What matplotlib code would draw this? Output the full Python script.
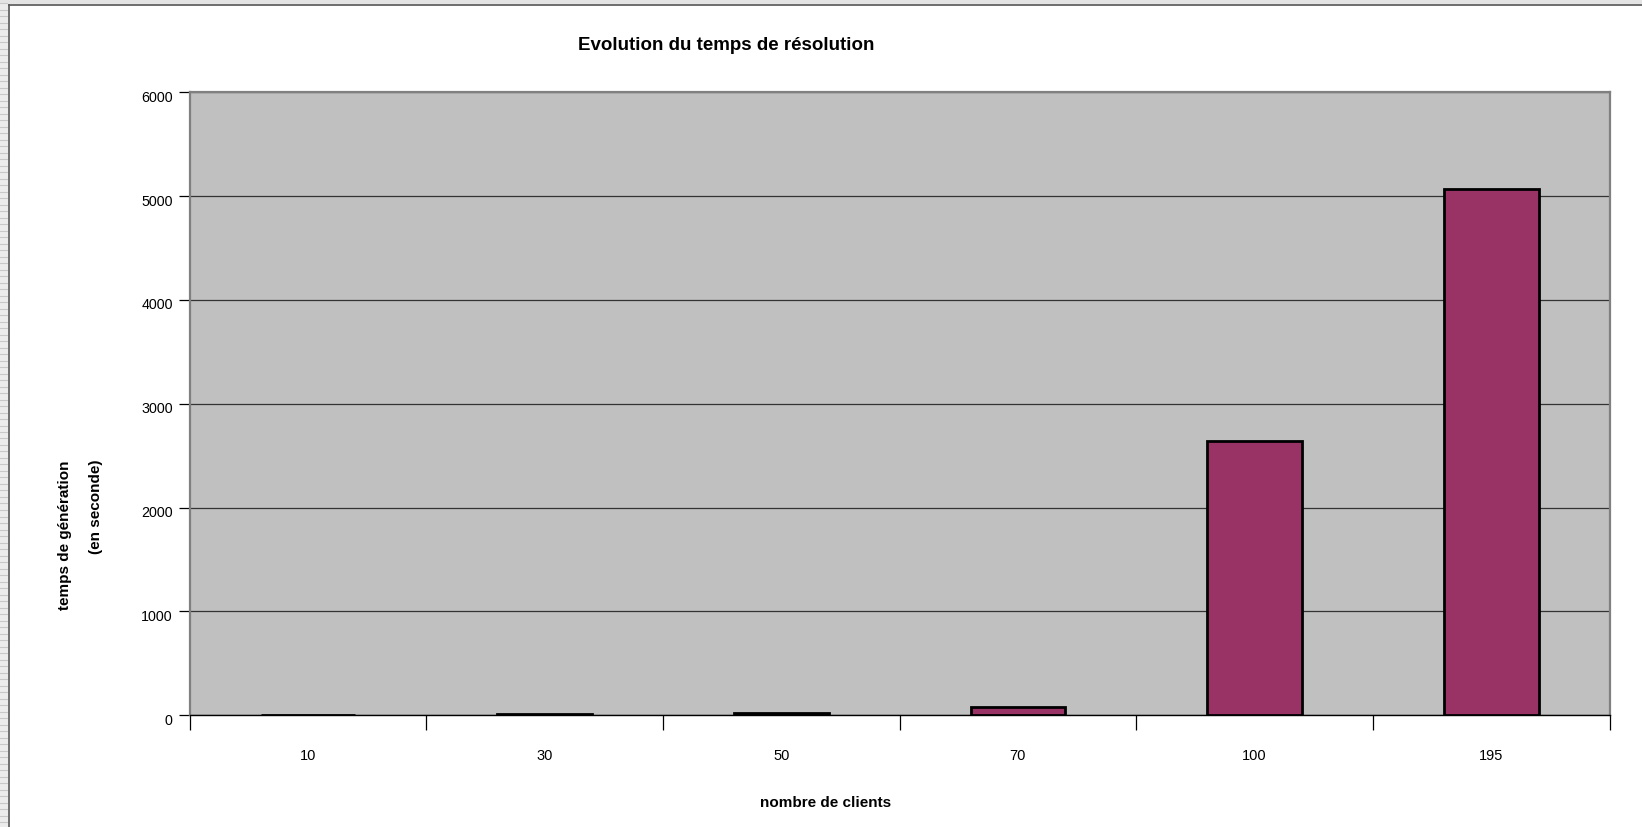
import matplotlib
matplotlib.use("Agg")
import matplotlib.pyplot as plt
from matplotlib.patches import Rectangle
from matplotlib.lines import Line2D
import matplotlib.transforms as mtransforms
import numpy as np

categories = ["10", "30", "50", "70", "100", "195"]
values = [2, 8, 25, 80, 2640, 5070]
yticks = [0, 1000, 2000, 3000, 4000, 5000, 6000]

W, H = 1642, 827
fig = plt.figure(figsize=(W / 100, H / 100), dpi=100)
fig.patch.set_facecolor("white")
plt.rcParams['font.family'] = ['Liberation Sans', 'DejaVu Sans']

# decorative spreadsheet-like frame
fig.add_artist(Rectangle((0, 0), 8 / W, 1, transform=fig.transFigure, facecolor="#ececec", edgecolor="none"))
for yy in np.arange(3, H, 6.5):
    fig.add_artist(Line2D([0, 7 / W], [1 - yy / H, 1 - yy / H], transform=fig.transFigure, color="#c8c8c8", lw=0.8))
fig.add_artist(Rectangle((0, 1 - 4 / H), 1, 4 / H, transform=fig.transFigure, facecolor="#e4e4e4", edgecolor="none"))
fig.add_artist(Line2D([8.5 / W, 8.5 / W], [0, 1 - 5 / H], transform=fig.transFigure, color="#555555", lw=1.2))
fig.add_artist(Line2D([8.5 / W, 1], [1 - 5 / H, 1 - 5 / H], transform=fig.transFigure, color="#555555", lw=1.2))

left, right, top, bottom = 189.5, 1609.5, 92.2, 715.2
ax = fig.add_axes([left / W, 1 - bottom / H, (right - left) / W, (bottom - top) / H])
ax.set_facecolor("#C0C0C0")

x = np.arange(len(categories))
ax.bar(x, values, width=0.4, color="#993366", edgecolor="black", linewidth=2, zorder=3)

ax.set_xlim(-0.5, len(categories) - 0.5)
ax.set_ylim(0, 6000)
ax.set_yticks(yticks)
ax.set_yticklabels([str(t) for t in yticks], fontsize=10.3)
ax.yaxis.grid(True, color="#333333", lw=0.9, zorder=1)
ax.set_axisbelow(True)

ax.set_xticks(x)
ax.set_xticklabels(categories, fontsize=10.5)
ax.tick_params(axis="x", length=0, pad=24)
ax.set_xticks(np.arange(-0.5, len(categories)), minor=True)
ax.tick_params(axis="x", which="minor", length=11, width=0.9, color="black", direction="out")
ax.tick_params(axis="y", length=8, width=0.9, color="black", direction="out", pad=4)
off = mtransforms.ScaledTranslation(0, -4 / 100, fig.dpi_scale_trans)
for lab in ax.get_yticklabels():
    lab.set_transform(lab.get_transform() + off)

for s in ["top", "right", "left"]:
    ax.spines[s].set_color("#808080")
    ax.spines[s].set_linewidth(1.6)
ax.spines["bottom"].set_color("black")
ax.spines["bottom"].set_linewidth(1.0)

fig.text(726 / W, 1 - 46 / H, "Evolution du temps de résolution", ha="center", va="center",
         fontsize=13.5, fontweight="bold")
fig.text(826 / W, 1 - 803 / H, "nombre de clients", ha="center", va="center",
         fontsize=11, fontweight="bold")
fig.text(65 / W, 1 - 460 / H, "temps de génération", ha="center", va="top",
         rotation=90, fontsize=11, fontweight="bold")
fig.text(96 / W, 1 - 460 / H, "(en seconde)", ha="center", va="top",
         rotation=90, fontsize=11, fontweight="bold")

fig.savefig("out.png", dpi=100)
